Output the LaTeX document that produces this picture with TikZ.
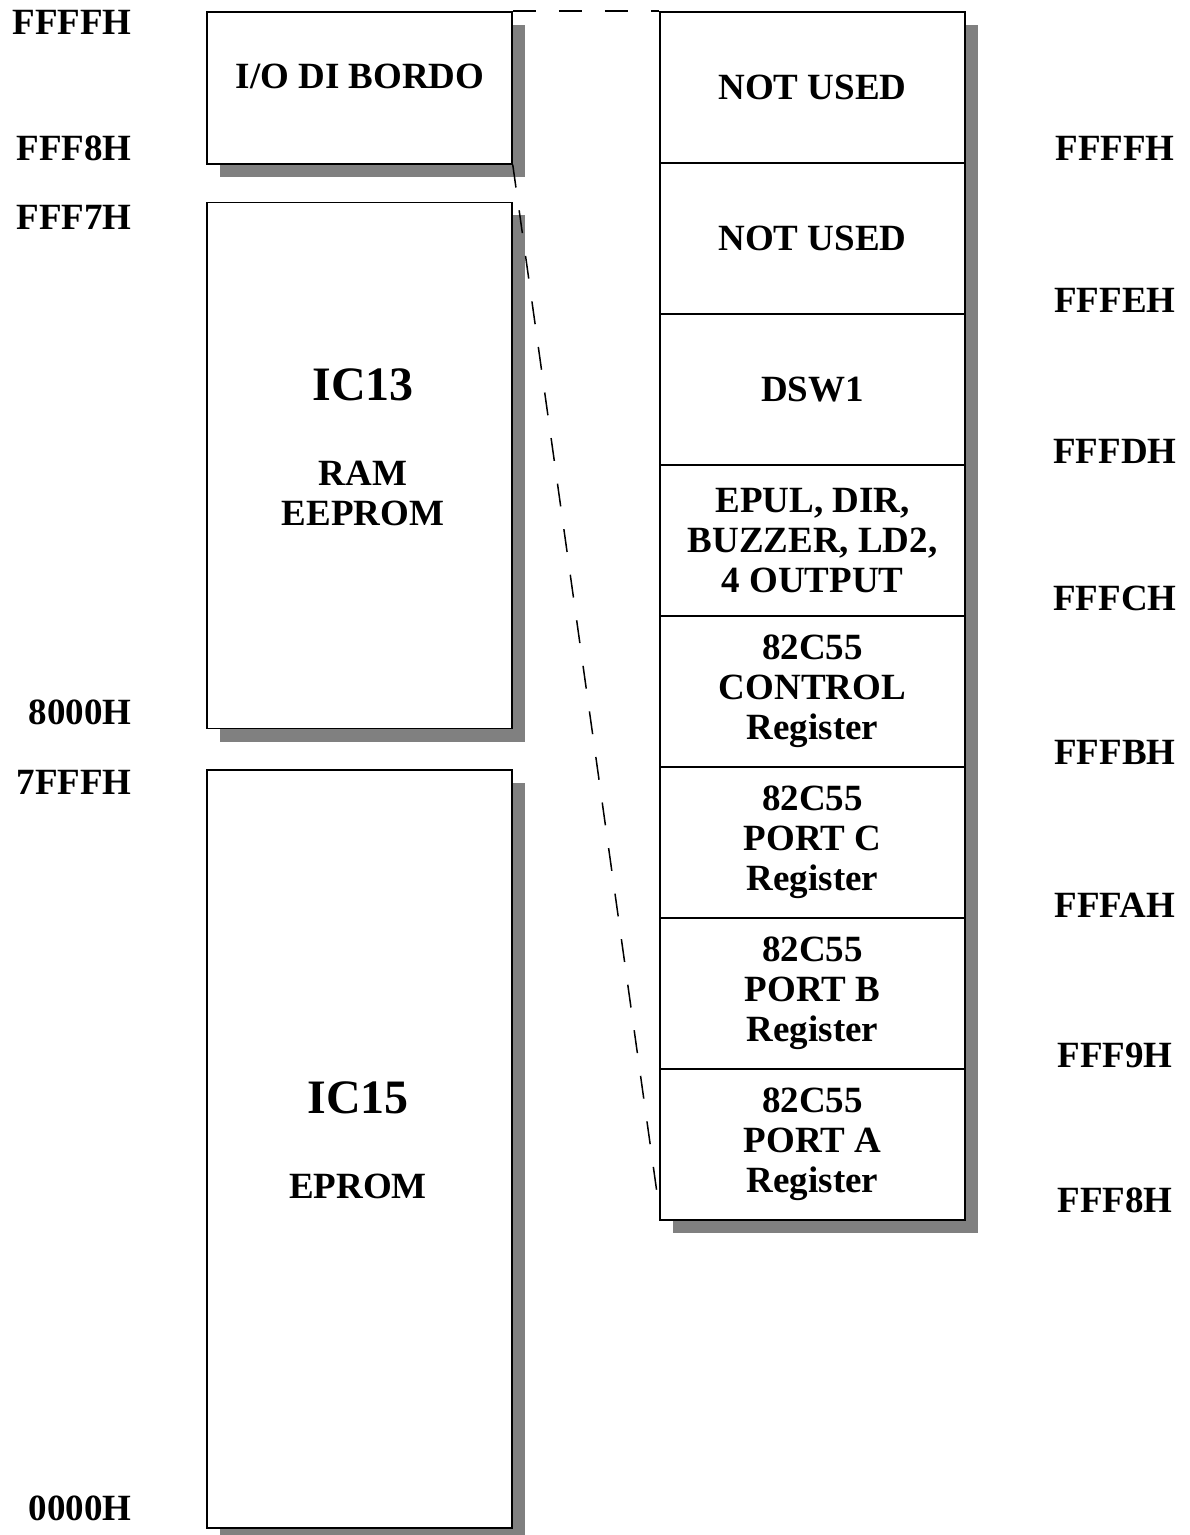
\documentclass[tikz,border=0pt]{standalone}
\usepackage{fontspec}
\setmainfont{Liberation Serif}
\usetikzlibrary{positioning,shadows}

\begin{document}
\begin{tikzpicture}[x=0.5pt, y=-0.5pt,
  font=\bfseries\fontsize{18.5}{20}\selectfont,
  box/.style={draw, line width=0.75pt, fill=white, inner sep=0pt,
              minimum width=152.5pt,
              drop shadow={shadow xshift=6.5pt, shadow yshift=-6.5pt,
                           fill=black!50, opacity=1}},
  reg/.style={box, minimum height=75.5pt, align=center},
  big/.style={font=\bfseries\fontsize{24}{28}\selectfont},
  addr/.style={inner sep=0pt},
  dashline/.style={line width=0.75pt, dash pattern=on 11.5pt off 11.5pt}]
\useasboundingbox (0,0) rectangle (1189,1535);
% --- memory map ---
\node[box, minimum height=76pt] (io) at (359.5,88) {};
\node[box, minimum height=263pt, below=18.5pt of io] (ic13) {};
\node[box, minimum height=379pt, below=20pt of ic13] (ic15) {};
\node (tio) at (360,76) {I/O DI BORDO};
\node[big] (t13) at (363,385) {IC13};
\node[align=center] (t13b) at (363,493) {RAM\\EEPROM};
\node[big] (t15) at (358,1098) {IC15};
\node (t15b) at (358,1186) {EPROM};
% --- I/O registers ---
\foreach \n/\txt in {1/{NOT USED}, 2/{NOT USED}, 3/{DSW1},
                     4/{EPUL, DIR,\\BUZZER, LD2,\\4 OUTPUT},
                     5/{82C55\\CONTROL\\Register},
                     6/{82C55\\PORT C\\Register},
                     7/{82C55\\PORT B\\Register},
                     8/{82C55\\PORT A\\Register}}
  \node[reg] (r\n) at (812.5,{87.5+151*(\n-1)}) {\txt};
% --- addresses ---
\foreach \t/\y in {FFFFH/22, FFF8H/148, FFF7H/217, 8000H/712,
                   7FFFH/782, 0000H/1508}
  \node[addr, anchor=east] (la\t) at (132,\y) {\t};
\foreach \t/\y in {FFFFH/148, FFFEH/300, FFFDH/451, FFFCH/598,
                   FFFBH/752, FFFAH/905, FFF9H/1055, FFF8H/1200}
  \node[addr] (ra\t) at (1115,\y) {\t};
% --- zoom lines ---
\coordinate (ioend) at (657,1193);
\draw[dashline] (io.north east) -- (r1.north west);
\draw[dashline] (io.south east) -- (ioend);
\end{tikzpicture}
\end{document}
